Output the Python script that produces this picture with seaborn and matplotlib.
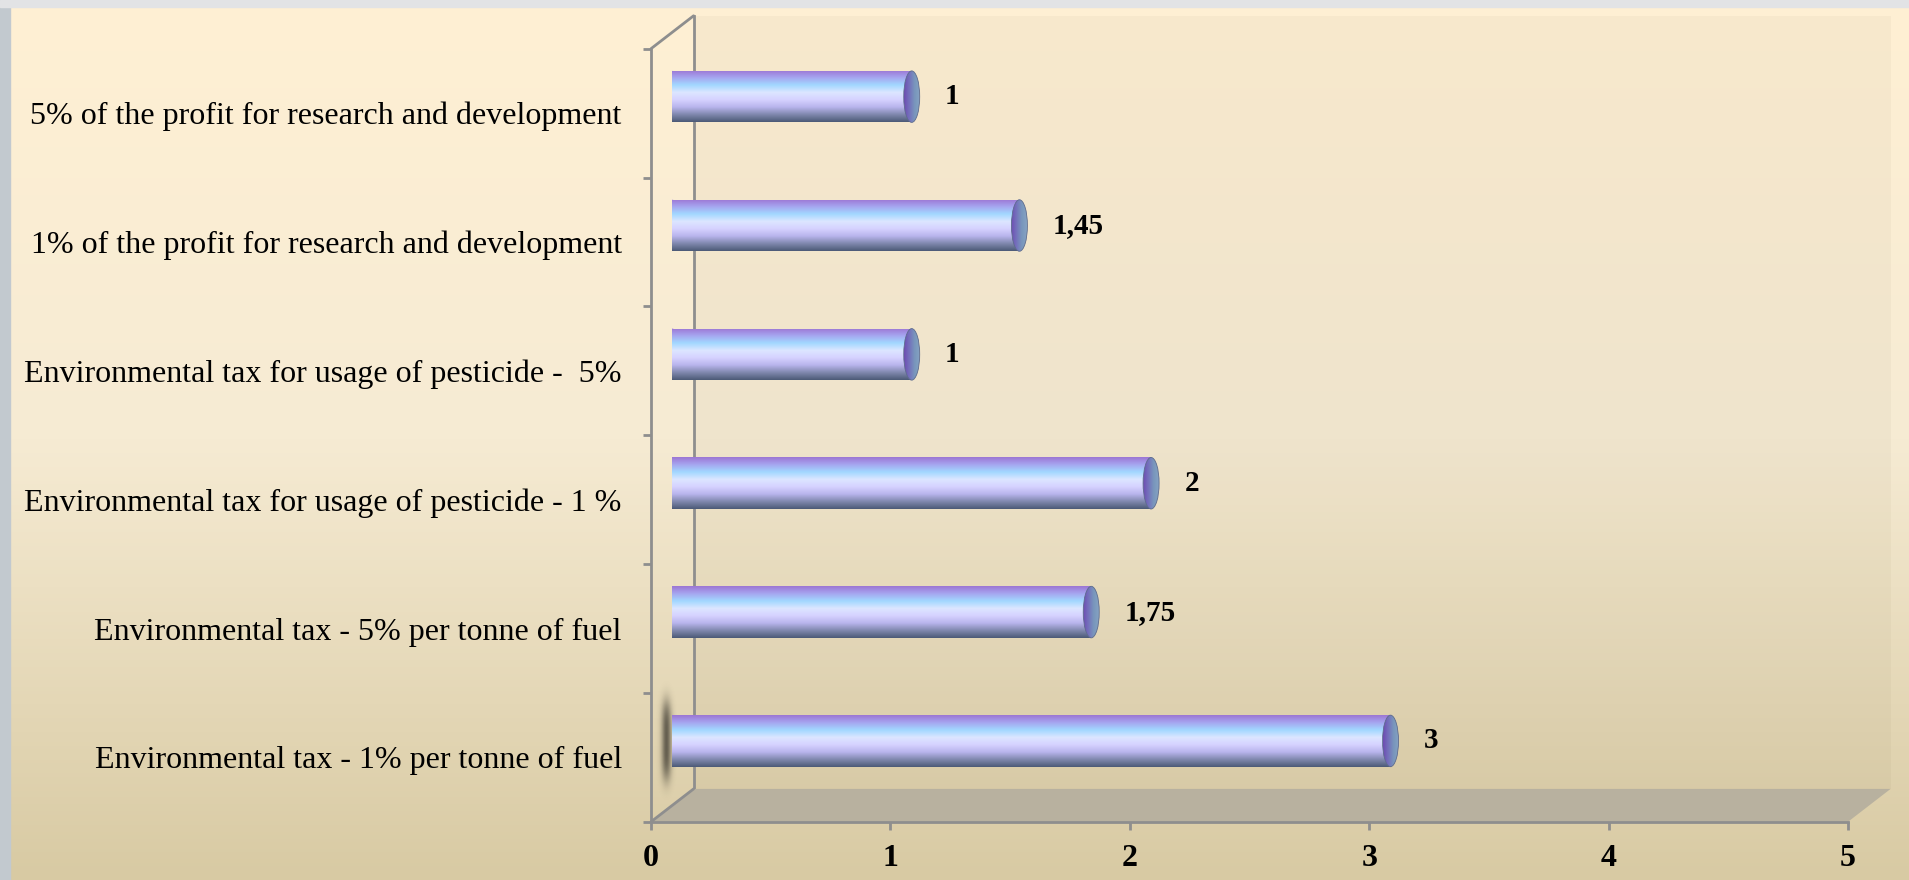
import numpy as np
import matplotlib
matplotlib.use("Agg")
import matplotlib.pyplot as plt
import seaborn as sns
import pandas as pd
from matplotlib.patches import Ellipse, Polygon, Rectangle
from matplotlib.lines import Line2D
from matplotlib.colors import LinearSegmentedColormap
from matplotlib.ticker import FixedLocator, NullFormatter

# data, top bar first
categories = [
    "5% of the profit for research and development",
    "1% of the profit for research and development",
    "Environmental tax for usage of pesticide -  5%",
    "Environmental tax for usage of pesticide - 1 %",
    "Environmental tax - 5% per tonne of fuel",
    "Environmental tax - 1% per tonne of fuel",
]
values = [1, 1.45, 1, 2, 1.75, 3]
value_labels = ["1", "1,45", "1", "2", "1,75", "3"]
x_ticks = [0, 1, 2, 3, 4, 5]

sns.set_style("white")
plt.rcParams["font.family"] = ["Liberation Serif", "DejaVu Serif"]
plt.rcParams["text.color"] = "black"

W, H = 1909, 880
fig = plt.figure(figsize=(W / 100, H / 100), dpi=100)

# slide-like background
bg = fig.add_axes([0, 0, 1, 1], zorder=-10)
bg_cmap = LinearSegmentedColormap.from_list("bg", ["#FFF0D4", "#F6EBD3", "#D8CAA3"])
bg.imshow(np.linspace(0, 1, 256).reshape(-1, 1), aspect="auto", cmap=bg_cmap,
          extent=[0, 1, 0, 1])
bg.add_patch(Rectangle((0, 0), 10 / W, 1, color="#C2C9CF", transform=bg.transAxes))
bg.add_patch(Rectangle((0, 1 - 7 / H), 1, 7 / H, color="#E2E3E5", transform=bg.transAxes))
bg.set_xlim(0, 1)
bg.set_ylim(0, 1)
bg.axis("off")

# pseudo 3d geometry (pixels)
dx, dy = 42.6, 32.9
fx0, fx1 = 651, 1848
fy_top, fy_bot = 48.7, 821.8


def box(ox, oy):
    return [(fx0 + ox) / W, (H - fy_bot + oy) / H, (fx1 - fx0) / W, (fy_bot - fy_top) / H]


ax_back = fig.add_axes(box(dx, dy), zorder=1)
ax = fig.add_axes(box(dx / 2, dy / 2), zorder=2)
ax_front = fig.add_axes(box(0, 0), zorder=3)

grid_col = "#8E8E8E"
ylim = (len(categories) - 0.5, -0.5)

# back wall
ax_back.set_facecolor((0.35, 0.3, 0.15, 0.04))
for s in ["top", "right", "bottom"]:
    ax_back.spines[s].set_visible(False)
ax_back.spines["left"].set_color(grid_col)
ax_back.spines["left"].set_linewidth(2)
ax_back.set_xticks([])
ax_back.set_yticks([])
ax_back.set_xlim(0, 5)
ax_back.set_ylim(*ylim)

# floor
floor = Polygon([((fx0) / W, (H - fy_bot) / H), ((fx1) / W, (H - fy_bot) / H),
                 ((fx1 + dx) / W, (H - fy_bot + dy) / H), ((fx0 + dx) / W, (H - fy_bot + dy) / H)],
                closed=True, transform=fig.transFigure, facecolor="#B8B19F",
                edgecolor="none", zorder=1.5)
fig.add_artist(floor)
for yy in (fy_bot, fy_top):
    fig.add_artist(Line2D([fx0 / W, (fx0 + dx) / W], [(H - yy) / H, (H - yy + dy) / H],
                          transform=fig.transFigure, color=grid_col, lw=2, zorder=1.6))

# bars
df = pd.DataFrame({"category": categories, "value": values})
sns.barplot(data=df, x="value", y="category", orient="h", width=0.4,
            color="#C8C4FF", ax=ax)
ax.set_xlim(0, 5)
ax.set_ylim(*ylim)
ax.axis("off")
ax.patch.set_alpha(0)

cyl_cmap = LinearSegmentedColormap.from_list(
    "cyl", ["#9C76D4", "#A6A6F0", "#A2D8FF", "#DCE6FF", "#D6D2FF",
            "#B8B4EC", "#8088AE", "#4C5B77"])
cap_cmap = LinearSegmentedColormap.from_list("cap", ["#6E4CB2", "#7470BC", "#7896BC", "#86A2C2"])
grad_v = np.linspace(0, 1, 200).reshape(-1, 1)
grad_h = np.linspace(0, 1, 100).reshape(1, -1)
ew = 16 / 239.4

for p in list(ax.patches):
    x0, y0, w, h = p.get_x(), p.get_y(), p.get_width(), p.get_height()
    p.set_facecolor("none")
    p.set_edgecolor("none")
    yc = y0 + h / 2
    body = ax.imshow(grad_v, aspect="auto", cmap=cyl_cmap,
                     extent=[x0 - ew, x0 + w, y0 + h, y0], zorder=3)
    body.set_clip_path(Rectangle((x0, y0), w, h, transform=ax.transData))
    left = Ellipse((x0, yc), ew, h, transform=ax.transData)
    lend = ax.imshow(grad_v, aspect="auto", cmap=cyl_cmap,
                     extent=[x0 - ew, x0 + w, y0 + h, y0], zorder=3)
    lend.set_clip_path(left)
    cap = Ellipse((x0 + w, yc), ew, h, transform=ax.transData)
    cimg = ax.imshow(grad_h, aspect="auto", cmap=cap_cmap,
                     extent=[x0 + w - ew / 2, x0 + w + ew / 2, y0 + h, y0], zorder=4)
    cimg.set_clip_path(cap)
    ax.add_patch(Ellipse((x0 + w, yc), ew, h, facecolor="none",
                         edgecolor="#5E6C8E", lw=0.6, zorder=5))

ax.set_xlim(0, 5)
ax.set_ylim(*ylim)
ax.bar_label(ax.containers[0], labels=value_labels, padding=24,
             fontsize=21, fontweight="bold", color="black")

# front frame with ticks and labels
ax_front.patch.set_alpha(0)
for s in ["top", "right"]:
    ax_front.spines[s].set_visible(False)
for s in ["left", "bottom"]:
    ax_front.spines[s].set_color(grid_col)
    ax_front.spines[s].set_linewidth(2)
ax_front.set_xlim(0, 5)
ax_front.set_ylim(*ylim)
ax_front.set_xticks(x_ticks)
ax_front.set_xticklabels([str(t) for t in x_ticks], fontsize=23, fontweight="bold",
                         color="black")
ax_front.yaxis.set_major_locator(FixedLocator(np.arange(-0.5, len(categories), 1.0)))
ax_front.yaxis.set_major_formatter(NullFormatter())
ax_front.yaxis.set_minor_locator(FixedLocator(range(len(categories))))
ax_front.set_yticklabels(categories, minor=True, fontsize=23, color="black")
ax_front.tick_params(axis="x", which="major", direction="out", length=6, width=2,
                     color=grid_col, pad=10, bottom=True)
ax_front.tick_params(axis="y", which="major", direction="out", length=6, width=2,
                     color=grid_col, left=True)
ax_front.tick_params(axis="y", which="minor", length=0, pad=21, left=True)

# soft shadow next to the lowest bar
sh = np.zeros((120, 30, 4))
yy, xx = np.mgrid[0:120, 0:30]
sh[..., 3] = 0.55 * np.exp(-((xx - 14) / 5.0) ** 2) * np.exp(-((yy - 60) / 40.0) ** 4)
fig.figimage(sh, xo=652, yo=H - 800, zorder=1.8)

fig.savefig("out.png", dpi=100)
